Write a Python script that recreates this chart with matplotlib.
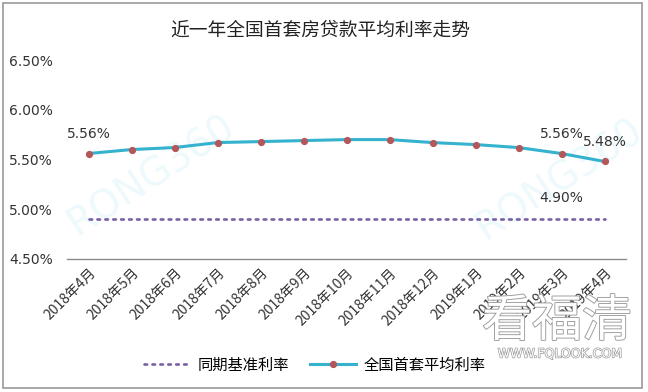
import matplotlib
matplotlib.use("Agg")
import matplotlib.pyplot as plt
import matplotlib.patheffects as pe
from matplotlib.lines import Line2D
from matplotlib.patches import Rectangle

plt.rcParams["font.family"] = ["Noto Sans CJK SC", "DejaVu Sans"]

# -- Data
MONTHS = ["2018年4月", "2018年5月", "2018年6月", "2018年7月", "2018年8月",
          "2018年9月", "2018年10月", "2018年11月", "2018年12月", "2019年1月",
          "2019年2月", "2019年3月", "2019年4月"]
AVG_RATE  = [5.56, 5.60, 5.62, 5.67, 5.68, 5.69, 5.70, 5.70, 5.67, 5.65, 5.62, 5.56, 5.48]
BASE_RATE = [4.90] * 13
YTICKS = [4.5, 5.0, 5.5, 6.0, 6.5]

# indices that carry a value label
AVG_LABELED  = [0, 11, 12]
BASE_LABELED = [11]

TITLE = "近一年全国首套房贷款平均利率走势"
LEG_BASE = "同期基准利率"
LEG_AVG  = "全国首套平均利率"

LINE_COLOR   = "#35B2CE"
MARKER_COLOR = "#B3575B"
DOT_COLOR    = "#7A5EA6"


def main():
    fig = plt.figure(figsize=(6.48, 3.92), dpi=100)
    ax = fig.add_axes([67 / 648, 1 - 259 / 392, 559 / 648, 199 / 392])

    x = list(range(len(MONTHS)))

    # faint watermarks behind the data
    for wx, wy in [(0.15, 0.42), (0.88, 0.40)]:
        ax.text(wx, wy, "RONG360", transform=ax.transAxes, fontsize=28,
                color="#EDF9FC", rotation=33, clip_on=False,
                ha="center", va="center", family="DejaVu Sans", zorder=0)

    ax.plot(x, BASE_RATE, color=DOT_COLOR, lw=1.9, linestyle=(0, (1, 2)),
            dash_capstyle="round", zorder=2)
    ax.plot(x, AVG_RATE, color=LINE_COLOR, lw=2.2, zorder=3,
            marker="o", markersize=4.2, markerfacecolor=MARKER_COLOR,
            markeredgecolor=MARKER_COLOR)

    for i in AVG_LABELED:
        ax.annotate(f"{AVG_RATE[i]:.2f}%", xy=(x[i], AVG_RATE[i]),
                    xytext=(0, 14), textcoords="offset points",
                    ha="center", va="center", fontsize=10, color="#333333",
                    family="DejaVu Sans")
    for i in BASE_LABELED:
        ax.annotate(f"{BASE_RATE[i]:.2f}%", xy=(x[i], BASE_RATE[i]),
                    xytext=(0, 15), textcoords="offset points",
                    ha="center", va="center", fontsize=10, color="#333333",
                    family="DejaVu Sans")

    ax.set_xlim(-0.5, len(MONTHS) - 0.5)
    ax.set_ylim(4.5, 6.5)
    ax.set_yticks(YTICKS)
    ax.set_yticklabels([f"{v:.2f}%" for v in YTICKS], fontsize=10,
                       color="#333333", family="DejaVu Sans")
    ax.set_xticks(x)
    ax.set_xticklabels(MONTHS, rotation=45, ha="right", va="top",
                       rotation_mode="anchor", fontsize=10, color="#333333")
    ax.tick_params(axis="y", length=0, pad=10)
    ax.tick_params(axis="x", length=0, pad=5)

    for side in ["top", "right", "left"]:
        ax.spines[side].set_visible(False)
    ax.spines["bottom"].set_color("#8C8C8C")
    ax.spines["bottom"].set_linewidth(1.0)

    fig.text(320 / 648, 1 - 30 / 392, TITLE, ha="center", va="center",
             fontsize=13.5, color="#222222")

    handles = [
        Line2D([], [], color=DOT_COLOR, lw=1.9, linestyle=(0, (1, 2)),
               dash_capstyle="round"),
        Line2D([], [], color=LINE_COLOR, lw=2.2, marker="o", markersize=4.2,
               markerfacecolor=MARKER_COLOR, markeredgecolor=MARKER_COLOR),
    ]
    fig.legend(handles, [LEG_BASE, LEG_AVG], loc="center",
               bbox_to_anchor=(315 / 648, 1 - 365 / 392), ncol=2,
               frameon=False, fontsize=11, handlelength=3.0,
               columnspacing=1.4, handletextpad=0.5)

    # site watermark in the lower right corner
    outline = [pe.withStroke(linewidth=1.3, foreground="#9A9A9A")]
    fig.text(557 / 648, 1 - 322 / 392, "看福清", ha="center", va="center",
             fontsize=36, color="white", path_effects=outline, zorder=5)
    fig.text(560 / 648, 1 - 354 / 392, "WWW.FQLOOK.COM", ha="center",
             va="center", fontsize=9, color="white", family="DejaVu Sans",
             path_effects=[pe.withStroke(linewidth=1, foreground="#9A9A9A")],
             zorder=5)

    fig.patches.append(Rectangle((3 / 648, 4 / 392), 639 / 648, 385 / 392,
                                 transform=fig.transFigure, fill=False,
                                 edgecolor="#9A9A9A", lw=1.2))

    fig.savefig("out.png", dpi=100)
    plt.close(fig)


if __name__ == "__main__":
    main()
